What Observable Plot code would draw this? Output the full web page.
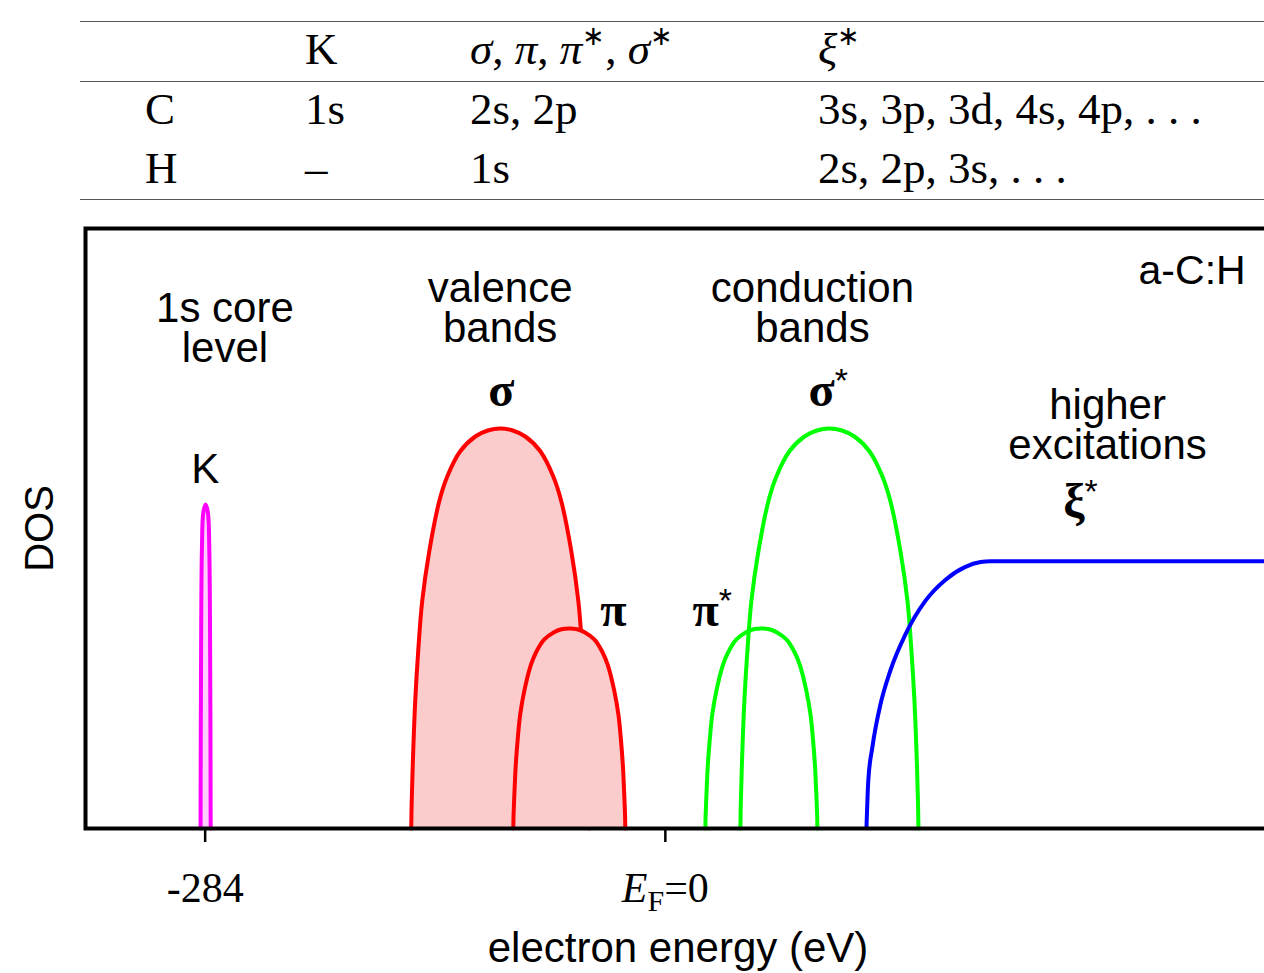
<!DOCTYPE html>
<html><head><meta charset="utf-8">
<script src="https://cdn.jsdelivr.net/npm/d3@7"></script>
<script src="https://cdn.jsdelivr.net/npm/@observablehq/plot@0.6"></script>
<style>
html,body{margin:0;padding:0;background:#fff;overflow:hidden}
#page{position:relative;width:1264px;height:973px;overflow:hidden;background:#fff}
.rule{position:absolute;left:80px;width:1200px;height:0;border-top:1.6px solid #555}
.cell{position:absolute;font-family:"Liberation Serif",serif;font-size:45px;line-height:45px;white-space:nowrap;color:#000}
.cell sup{font-size:0.6em;line-height:0;vertical-align:0.7em}
#chart{position:absolute;left:0;top:210px;max-width:none !important;width:1300px;height:763px}
</style></head><body><div id="page"></div>
<script>
// ---------- table (top) ----------
const tableHeader = ["", "K", "σ, π, π*, σ*", "ξ*"];
const tableRowC = ["C", "1s", "2s, 2p", "3s, 3p, 3d, 4s, 4p, . . ."];
const tableRowH = ["H", "–", "1s", "2s, 2p, 3s, . . ."];

// ---------- chart data (x: schematic energy units, y: DOS arb. units) ----------
const tickValues = [-10, 0];
const tickLabels = ["-284", "E_F=0"];

const bandK = [[-10.10,0],[-10.09,0.40],[-10.07,0.70],[-10.04,0.79],[-9.99,0.81],[-9.94,0.79],[-9.91,0.70],[-9.89,0.40],[-9.88,0]];
const bandSigma = [[-5.522,0],[-5.511,0.07],[-5.478,0.195],[-5.435,0.319],[-5.37,0.444],[-5.283,0.569],[-5.13,0.693],[-4.913,0.818],[-4.739,0.88],[-4.457,0.943],[-4.13,0.98],[-3.859,0.995],[-3.587,1.0],[-3.315,0.995],[-3.043,0.98],[-2.717,0.943],[-2.435,0.88],[-2.261,0.818],[-2.043,0.693],[-1.891,0.569],[-1.804,0.444],[-1.739,0.319],[-1.696,0.195],[-1.663,0.07],[-1.652,0]];
const bandPi = [[-3.304,0],[-3.298,0.035],[-3.276,0.098],[-3.25,0.16],[-3.209,0.222],[-3.154,0.285],[-3.059,0.347],[-2.922,0.409],[-2.811,0.44],[-2.635,0.472],[-2.428,0.49],[-2.259,0.498],[-2.087,0.5],[-1.915,0.498],[-1.746,0.49],[-1.539,0.472],[-1.363,0.44],[-1.252,0.409],[-1.115,0.347],[-1.02,0.285],[-0.965,0.222],[-0.924,0.16],[-0.898,0.098],[-0.876,0.035],[-0.87,0]];
const bandPiStar = [[0.87,0],[0.876,0.035],[0.898,0.098],[0.924,0.16],[0.965,0.222],[1.02,0.285],[1.115,0.347],[1.252,0.409],[1.363,0.44],[1.539,0.472],[1.746,0.49],[1.915,0.498],[2.087,0.5],[2.259,0.498],[2.428,0.49],[2.635,0.472],[2.811,0.44],[2.922,0.409],[3.059,0.347],[3.154,0.285],[3.209,0.222],[3.25,0.16],[3.276,0.098],[3.298,0.035],[3.304,0]];
const bandSigmaStar = [[1.63,0],[1.641,0.07],[1.674,0.195],[1.717,0.319],[1.783,0.444],[1.87,0.569],[2.022,0.693],[2.239,0.818],[2.413,0.88],[2.696,0.943],[3.022,0.98],[3.293,0.995],[3.565,1.0],[3.837,0.995],[4.109,0.98],[4.435,0.943],[4.717,0.88],[4.891,0.818],[5.109,0.693],[5.261,0.569],[5.348,0.444],[5.413,0.319],[5.457,0.195],[5.489,0.07],[5.50,0]];
const bandXi = [[4.37,0],[4.41,0.12],[4.50,0.204],[4.67,0.308],[4.89,0.395],[5.22,0.486],[5.65,0.569],[6.09,0.622],[6.52,0.654],[6.85,0.666],[7.07,0.668],[13.15,0.668]];

const sansLabels = [
  {text: "1s core\nlevel", x: -9.57, y: 1.1675},
  {text: "valence\nbands", x: -3.59, y: 1.2175},
  {text: "conduction\nbands", x: 3.196, y: 1.2175},
  {text: "K", x: -10.0, y: 0.865},
  {text: "higher\nexcitations", x: 9.61, y: 0.925}
];
const materialLabel = [{text: "a-C:H", x: 12.61, y: 1.3625}];
const greekLabels = [
  {text: "σ", x: -3.565, y: 1.0575},
  {text: "σ*", x: 3.54, y: 1.0575},
  {text: "π", x: -1.13, y: 0.5075},
  {text: "π*", x: 1.02, y: 0.5075},
  {text: "ξ*", x: 9.02, y: 0.78}
];

// ---------- render table ----------
const page = document.getElementById("page");
const colLeft = [145, 305, 470, 818];
const rowBaseline = [65, 125, 184];
function fmtHeader(s) {
  return s.replace(/([σπξ])/g, "<i>$1</i>").replace(/\*/g, "<sup>∗</sup>");
}
[22, 82, 200].forEach(y => {
  const r = document.createElement("div");
  r.className = "rule"; r.style.top = (y - 1) + "px";
  page.appendChild(r);
});
[tableHeader, tableRowC, tableRowH].forEach((row, ri) => {
  row.forEach((cell, ci) => {
    if (!cell) return;
    const d = document.createElement("div");
    d.className = "cell";
    d.style.left = colLeft[ci] + "px";
    d.style.top = (rowBaseline[ri] - 0.838 * 45) + "px";
    d.innerHTML = ri === 0 ? fmtHeader(cell) : cell;
    page.appendChild(d);
  });
});

// ---------- render chart ----------
const curve = "catmull-rom";
const X = d => d[0], Y = d => d[1];
const tickMap = new Map(tickValues.map((v, i) => [v, tickLabels[i]]));

const chart = Plot.plot({
  width: 1300, height: 763,
  marginLeft: 85, marginRight: 30, marginTop: 18, marginBottom: 145,
  x: {domain: [-12.6, 13.15]},
  y: {domain: [0, 1.5], axis: null},
  style: {background: "white", overflow: "visible", maxWidth: "none"},
  marks: [
    Plot.areaY(bandK, {x: X, y: Y, fill: "#ffccff", curve}),
    Plot.line(bandK, {x: X, y: Y, stroke: "#ff00ff", strokeWidth: 4, curve}),
    Plot.areaY(bandSigma, {x: X, y: Y, fill: "#fccbcb", curve}),
    Plot.line(bandSigma, {x: X, y: Y, stroke: "#ff0000", strokeWidth: 4, curve}),
    Plot.areaY(bandPi, {x: X, y: Y, fill: "#fccbcb", curve}),
    Plot.line(bandPi, {x: X, y: Y, stroke: "#ff0000", strokeWidth: 4, curve}),
    Plot.line(bandPiStar, {x: X, y: Y, stroke: "#00ff00", strokeWidth: 4, curve}),
    Plot.line(bandSigmaStar, {x: X, y: Y, stroke: "#00ff00", strokeWidth: 4, curve}),
    Plot.line(bandXi, {x: X, y: Y, stroke: "#0000ff", strokeWidth: 4, curve: "monotone-x", clip: true}),
    Plot.frame({stroke: "black", strokeWidth: 4}),
    Plot.axisX({ticks: tickValues, tickFormat: d => tickMap.get(d), tickSize: 14, tickPadding: 30,
      fontSize: 42, fontFamily: "Liberation Serif", strokeWidth: 2.5, label: null}),
    Plot.text(["DOS"], {text: d => d, frameAnchor: "left", rotate: -90, dx: -45, textAnchor: "middle",
      lineAnchor: "middle", fontSize: 40, fontFamily: "Liberation Sans"}),
    Plot.text(["electron energy (eV)"], {text: d => d, frameAnchor: "bottom", dy: 120, lineAnchor: "middle",
      fontSize: 42, fontFamily: "Liberation Sans"}),
    Plot.text(sansLabels, {x: "x", y: "y", text: "text", textAnchor: "middle", lineAnchor: "bottom",
      lineHeight: 0.95, fontSize: 42, fontFamily: "Liberation Sans"}),
    Plot.text(materialLabel, {x: "x", y: "y", text: "text", textAnchor: "end", lineAnchor: "bottom",
      fontSize: 41, fontFamily: "Liberation Sans"}),
    Plot.text(greekLabels, {x: "x", y: "y", text: "text", lineAnchor: "bottom",
      fontSize: 48, fontFamily: "Liberation Serif", fontWeight: "bold"})
  ]
});
chart.id = "chart";
page.appendChild(chart);

// rich text: E_F tick label and small raised asterisks
d3.select(chart).selectAll("text").each(function() {
  const s = this.textContent;
  const t = d3.select(this);
  if (s === "E_F=0") {
    t.text(null);
    t.append("tspan").attr("font-style", "italic").text("E");
    t.append("tspan").attr("font-size", "30px").attr("dy", "9").text("F");
    t.append("tspan").attr("dy", "-9").text("=0");
  } else if (/^[σπξ]\*$/.test(s) && this.childNodes.length === 1 && this.firstChild.nodeType === 3) {
    t.text(null);
    t.append("tspan").text(s[0]);
    t.append("tspan").attr("font-size", "34px").attr("font-family", "Liberation Sans").attr("font-weight", "normal").attr("dy", "-14").text("*");
  }
});
</script></body></html>
